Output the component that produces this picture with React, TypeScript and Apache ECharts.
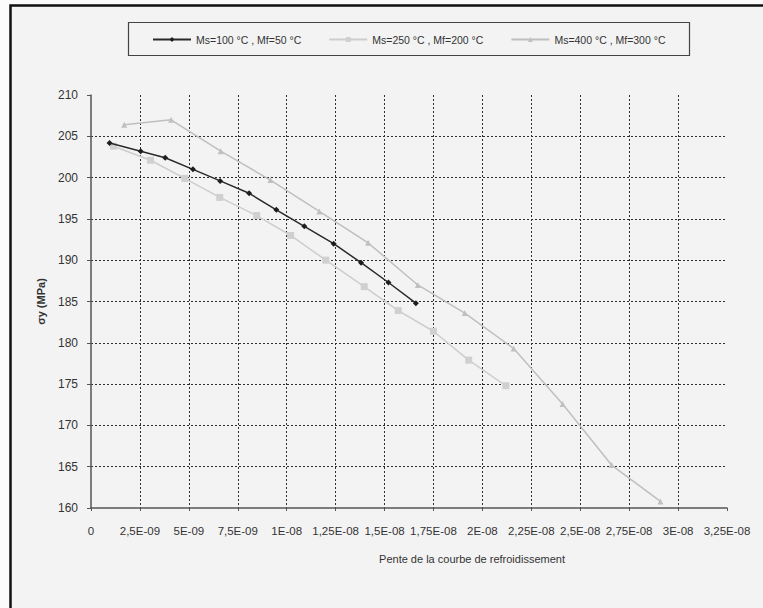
import React, { useEffect, useRef } from "react";
import * as echarts from "echarts";

const xTickLabels = ["0", "2,5E-09", "5E-09", "7,5E-09", "1E-08", "1,25E-08", "1,5E-08", "1,75E-08", "2E-08", "2,25E-08", "2,5E-08", "2,75E-08", "3E-08", "3,25E-08"];

const seriesNames = ["Ms=100 °C , Mf=50 °C", "Ms=250 °C , Mf=200 °C", "Ms=400 °C , Mf=300 °C"];

const s1X = [0.95e-9, 2.54e-9, 3.79e-9, 5.21e-9, 6.6e-9, 8.08e-9, 9.47e-9, 10.9e-9, 12.4e-9, 13.8e-9, 15.2e-9, 16.6e-9];
const s1Y = [204.2, 203.2, 202.4, 201.0, 199.6, 198.1, 196.1, 194.1, 192.0, 189.7, 187.3, 184.8];

const s2X = [1.15e-9, 3.04e-9, 4.79e-9, 6.58e-9, 8.47e-9, 10.2e-9, 12.0e-9, 13.96e-9, 15.7e-9, 17.5e-9, 19.3e-9, 21.2e-9];
const s2Y = [203.8, 202.1, 199.9, 197.6, 195.4, 193.0, 190.0, 186.8, 183.9, 181.4, 177.9, 174.8];

const s3X = [1.7e-9, 4.09e-9, 6.63e-9, 9.17e-9, 11.67e-9, 14.16e-9, 16.7e-9, 19.1e-9, 21.6e-9, 24.1e-9, 26.6e-9, 29.1e-9];
const s3Y = [206.4, 207.0, 203.2, 199.7, 195.9, 192.1, 187.0, 183.6, 179.3, 172.6, 165.2, 160.8];

const zip = (xs: number[], ys: number[]) => xs.map((x, i) => [x, ys[i]]);

export default function App() {
  const ref = useRef<HTMLDivElement>(null);
  useEffect(() => {
    if (!ref.current) return;
    const chart = echarts.init(ref.current, undefined, { renderer: "svg" });
    const font = "Liberation Sans, Arial, sans-serif";
    const gridLine = { show: true, showMinLine: false, showMaxLine: false, lineStyle: { color: "#2e2e2e", width: 1, type: [2, 2] } };
    chart.setOption({
      animation: false,
      backgroundColor: "#f3f3f3",
      textStyle: { fontFamily: font },
      graphic: [
        { type: "rect", shape: { x: 0, y: 0, width: 10, height: 608 }, style: { fill: "#fbfbfb" }, z: -1 },
        { type: "rect", shape: { x: 0, y: 0, width: 763, height: 5 }, style: { fill: "#fbfbfb" }, z: -1 },
        { type: "rect", shape: { x: 10.5, y: 5.5, width: 800, height: 700 }, style: { fill: "none", stroke: "#111", lineWidth: 2.5 } },
        { type: "rect", shape: { x: 128.5, y: 22.5, width: 561, height: 33 }, style: { fill: "none", stroke: "#444", lineWidth: 1.2 } },
        { type: "text", x: 472, y: 559, style: { text: "Pente de la courbe de refroidissement", fill: "#333", font: "11px " + font, textAlign: "center", textVerticalAlign: "middle" } },
      ],
      legend: {
        left: 147,
        top: 29,
        itemWidth: 38,
        itemHeight: 6,
        itemGap: 27,
        textStyle: { fontSize: 10.5, color: "#333", fontFamily: font },
        data: seriesNames,
      },
      grid: { left: 91, right: 36, top: 95, bottom: 100 },
      xAxis: {
        type: "value",
        min: 0,
        max: 3.25e-8,
        interval: 2.5e-9,
        axisLine: { show: true, lineStyle: { color: "#555", width: 1.5 } },
        axisTick: { show: true, length: 3, inside: false, lineStyle: { color: "#555" } },
        axisLabel: {
          margin: 17,
          fontSize: 11.5,
          color: "#333",
          fontFamily: font,
          hideOverlap: false,
          showMinLabel: true,
          showMaxLabel: true,
          formatter: (v: number) => xTickLabels[Math.round(v / 2.5e-9)] ?? "",
        },
        splitLine: gridLine,
      },
      yAxis: {
        type: "value",
        min: 160,
        max: 210,
        interval: 5,
        name: "σy (MPa)",
        nameLocation: "middle",
        nameGap: 45,
        nameTextStyle: { fontSize: 11, fontWeight: "bold", color: "#333", fontFamily: font },
        axisLine: { show: true, lineStyle: { color: "#555", width: 1.5 } },
        axisTick: { show: true, length: 4, lineStyle: { color: "#555" } },
        axisLabel: { margin: 13, fontSize: 12, color: "#333", fontFamily: font },
        splitLine: gridLine,
      },
      series: [
        {
          name: seriesNames[0],
          type: "line",
          data: zip(s1X, s1Y),
          symbol: "diamond",
          symbolSize: 6,
          itemStyle: { color: "#1e1e1e" },
          lineStyle: { color: "#2a2a2a", width: 1.5 },
          z: 4,
        },
        {
          name: seriesNames[1],
          type: "line",
          data: zip(s2X, s2Y),
          symbol: "rect",
          symbolSize: 7,
          itemStyle: { color: "#d0d0d0" },
          lineStyle: { color: "#cdcdcd", width: 1.5 },
          z: 3,
        },
        {
          name: seriesNames[2],
          type: "line",
          data: zip(s3X, s3Y),
          symbol: "triangle",
          symbolSize: 6,
          itemStyle: { color: "#c0c0c0" },
          lineStyle: { color: "#bfbfbf", width: 1.5 },
          z: 3,
        },
      ],
    });
    return () => chart.dispose();
  }, []);
  return <div ref={ref} style={{ position: "fixed", left: 0, top: 0, width: 763, height: 608 }} />;
}
